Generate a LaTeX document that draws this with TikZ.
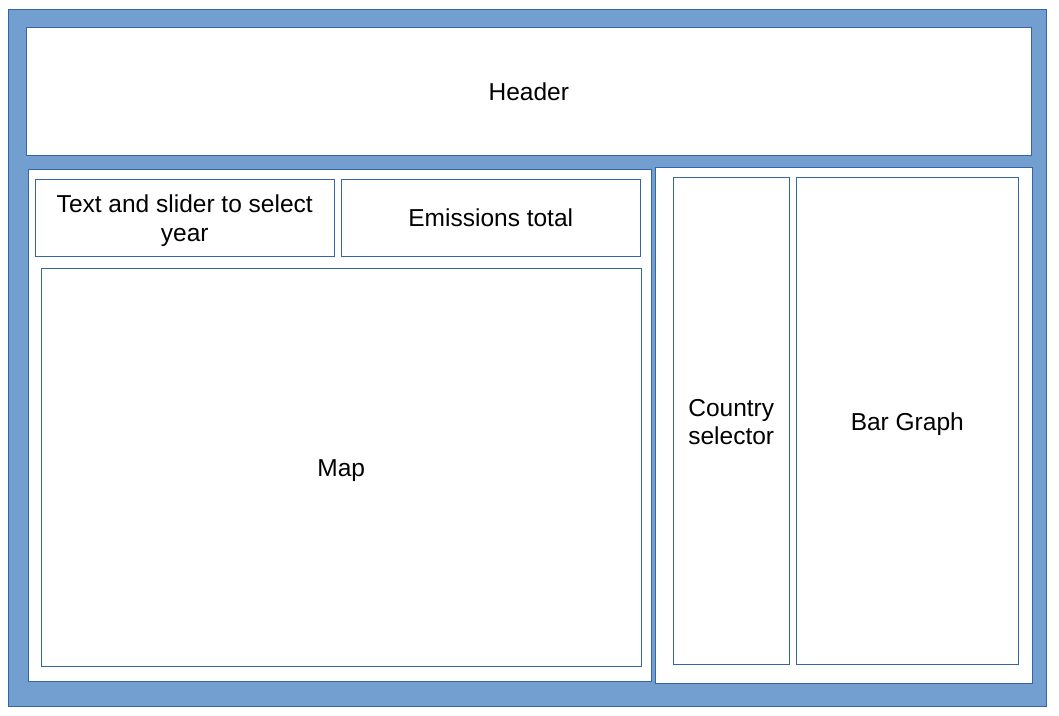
\documentclass[tikz,border=0pt]{standalone}
\usepackage{fontspec}
\setmainfont{Liberation Sans}
\definecolor{fillblue}{HTML}{729FCF}
\definecolor{lineblue}{HTML}{3465A4}
\begin{document}
\begin{tikzpicture}[x=1pt,y=-1pt,
  panel/.style={draw=lineblue,fill=white,line width=1pt},
  box/.style={draw=lineblue,fill=white,line width=0.9pt},
  lbl/.style={font=\fontsize{24.5}{28.2}\selectfont,align=center,text=black}]
\useasboundingbox (0,0) rectangle (1059,715);
\fill[white] (0,0) rectangle (1059,715);
\draw[draw=lineblue,fill=fillblue,line width=1pt] (8.5,9.5) rectangle (1046,706);
\draw[panel] (26.5,27.5) rectangle (1031,155) node[midway,lbl] (header) {Header};
\draw[panel] (28.5,169.5) rectangle (651,681);
\draw[panel] (655.5,167.5) rectangle (1032,683);
\draw[box] (35.5,179.5) rectangle (334,256) node[midway,lbl,yshift=-3pt] (slider) {Text and slider to select\\year};
\draw[box] (341.5,179.5) rectangle (640,256) node[midway,lbl] (emis) {Emissions total};
\draw[box] (41.5,268.5) rectangle (641,666) node[midway,lbl,yshift=-3pt] (map) {Map};
\draw[box] (673.5,177.5) rectangle (789,664) node[midway,lbl,yshift=-1pt] (country) {Country\\selector};
\draw[box] (796.5,177.5) rectangle (1018,664) node[midway,lbl,yshift=-3pt] (bar) {Bar Graph};
\end{tikzpicture}
\end{document}
